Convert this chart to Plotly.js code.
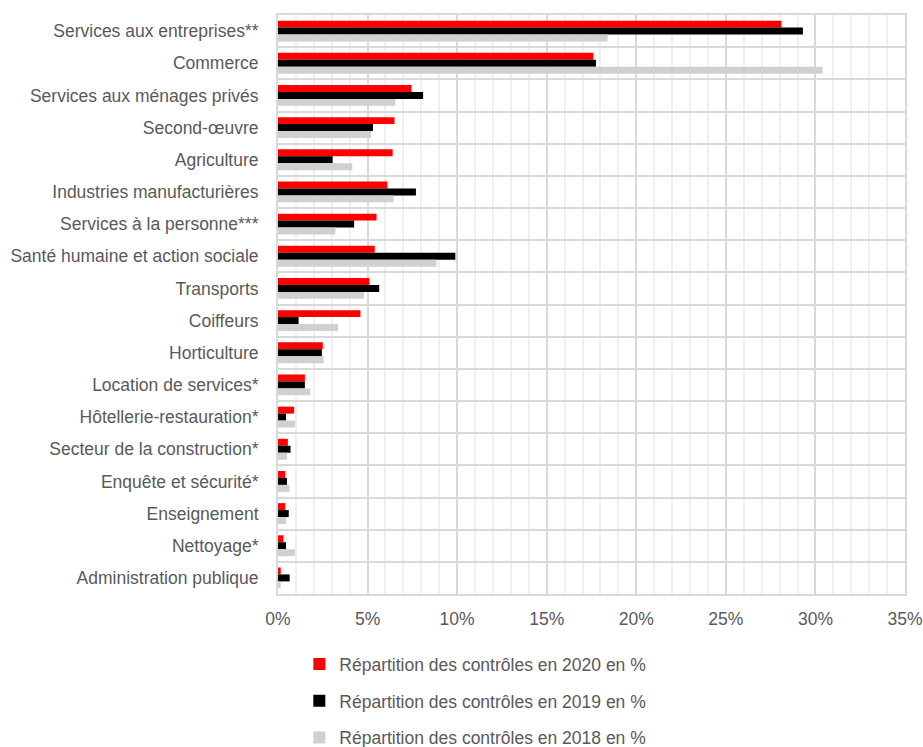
<!DOCTYPE html>
<html>
<head>
<meta charset="utf-8">
<script src="https://cdn.plot.ly/plotly-3.0.1.min.js"></script>
<style>
  body { margin: 0; padding: 0; background: #fff; }
  #plot { width: 923px; height: 747px; }
</style>
</head>
<body>
<div id="plot"></div>
<script>
var secteurs = [
  "Services aux entreprises**",
  "Commerce",
  "Services aux ménages privés",
  "Second-œuvre",
  "Agriculture",
  "Industries manufacturières",
  "Services à la personne***",
  "Santé humaine et action sociale",
  "Transports",
  "Coiffeurs",
  "Horticulture",
  "Location de services*",
  "Hôtellerie-restauration*",
  "Secteur de la construction*",
  "Enquête et sécurité*",
  "Enseignement",
  "Nettoyage*",
  "Administration publique"
];

// parts en %
var part2020 = [28.1, 17.6, 7.45, 6.5, 6.4, 6.1, 5.5, 5.4, 5.1, 4.6, 2.5, 1.5, 0.9, 0.55, 0.4, 0.4, 0.3, 0.15];
var part2019 = [29.3, 17.75, 8.1, 5.3, 3.05, 7.7, 4.25, 9.9, 5.65, 1.15, 2.45, 1.5, 0.45, 0.7, 0.5, 0.6, 0.45, 0.65];
var part2018 = [18.4, 30.4, 6.55, 5.2, 4.15, 6.45, 3.2, 8.85, 4.8, 3.35, 2.55, 1.8, 0.95, 0.5, 0.65, 0.45, 0.95, 0.15];

var annees = ["2020", "2019", "2018"];
var couleurs = ["#ff0000", "#000000", "#d0d0d0"];
var series = [part2020, part2019, part2018];

var police = "Liberation Sans, Arial, sans-serif";
var gris = "#595959";

var traces = [];
for (var i = 0; i < series.length; i++) {
  traces.push({
    type: 'bar',
    orientation: 'h',
    y: secteurs,
    x: series[i],
    name: "Répartition des contrôles en " + annees[i] + " en %",
    legendgroup: annees[i],
    marker: {color: couleurs[i], line: {width: 0}},
    hoverinfo: 'x+name'
  });
}

var layout = {
  width: 923,
  height: 747,
  paper_bgcolor: '#fff',
  plot_bgcolor: '#fff',
  font: {family: police, size: 17.5, color: gris},
  barmode: 'group',
  bargap: 0.35,
  bargroupgap: 0,
  margin: {l: 278, r: 18, t: 15, b: 153, autoexpand: false},
  showlegend: true,
  legend: {
    orientation: 'v',
    x: 0.034,
    xanchor: 'left',
    y: -0.09,
    yanchor: 'top',
    tracegroupgap: 11,
    traceorder: 'grouped',
    font: {family: police, size: 17.5, color: gris},
    bgcolor: 'rgba(0,0,0,0)'
  },
  xaxis: {
    range: [0, 35],
    dtick: 5,
    tick0: 0,
    ticksuffix: '%',
    showgrid: true,
    gridcolor: '#d9d9d9',
    gridwidth: 2,
    zeroline: false,
    showline: true,
    linecolor: '#d9d9d9',
    linewidth: 2,
    mirror: true,
    ticks: 'outside',
    ticklen: 8,
    tickcolor: 'rgba(0,0,0,0)',
    minor: {dtick: 1, showgrid: true, gridcolor: '#efefef', gridwidth: 2},
    tickfont: {family: police, size: 17.5, color: gris},
    fixedrange: true
  },
  yaxis: {
    type: 'category',
    autorange: 'reversed',
    tickson: 'boundaries',
    showgrid: true,
    gridcolor: '#d9d9d9',
    gridwidth: 2,
    showline: true,
    linecolor: '#d9d9d9',
    linewidth: 2,
    mirror: true,
    ticks: '',
    ticklabelstandoff: 14,
    tickfont: {family: police, size: 17.5, color: gris},
    fixedrange: true
  },
  // lignes claires au centre de chaque catégorie
  yaxis2: {
    overlaying: 'y',
    anchor: 'x',
    range: [secteurs.length - 0.5, -0.5],
    tick0: 0,
    dtick: 1,
    showgrid: true,
    gridcolor: '#efefef',
    gridwidth: 2,
    showticklabels: false,
    zeroline: false,
    showline: false,
    ticks: '',
    fixedrange: true
  }
};

Plotly.newPlot('plot', traces, layout, {displayModeBar: false, staticPlot: true});
</script>
</body>
</html>
